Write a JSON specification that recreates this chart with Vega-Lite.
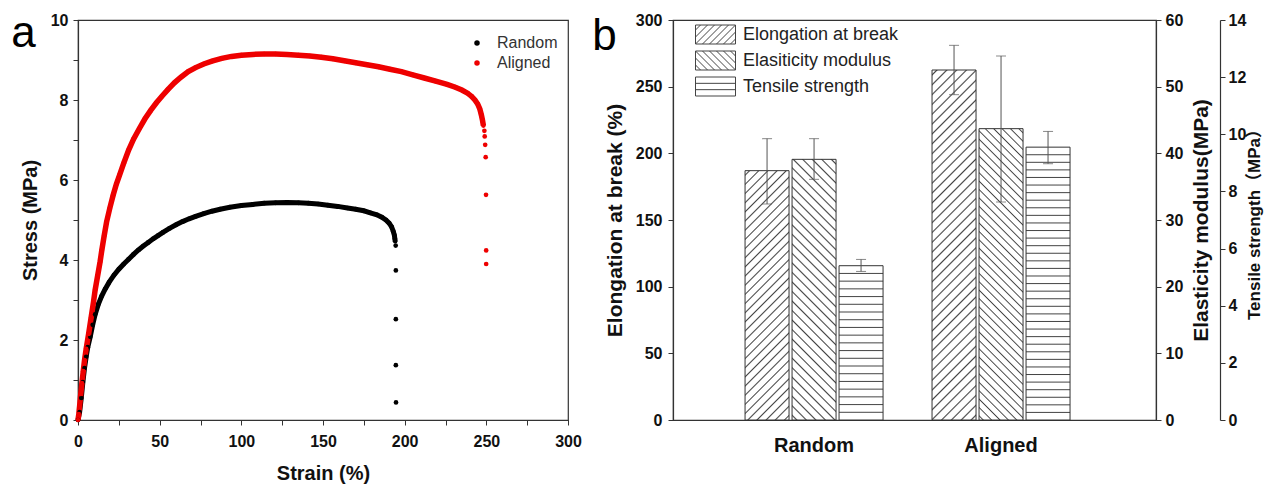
{
"$schema": "https://vega.github.io/schema/vega-lite/v6.json",
"background": "white",
"padding": {"left": 10, "top": 11, "right": 0, "bottom": 0},
"spacing": 105,
"bounds": "flush",
"resolve": {"legend": {"color": "independent", "shape": "independent"}},
"config": {
  "font": "Liberation Sans",
  "view": {"stroke": "#333", "strokeWidth": 1.2},
  "axis": {"grid": false, "domainColor": "#333", "tickColor": "#333", "labelColor": "#111", "titleColor": "#111", "labelFont": "Liberation Sans", "titleFont": "Liberation Sans", "labelFontWeight": "bold", "titleFontWeight": "bold", "labelFontSize": 16, "titleFontSize": 20, "tickSize": 5, "domainWidth": 1.2, "labelOverlap": false, "labelFlush": false},
  "legend": {"labelFont": "Liberation Sans", "labelFontWeight": "normal"},
  "title": {"font": "Liberation Sans", "fontWeight": "normal", "fontSize": 44, "color": "#000", "anchor": "start", "frame": "bounds"}
},
"params": [
 {"name": "stopsR", "value": [
  {"offset":0.0106,"color":"#fff"},{"offset":0.0156,"color":"#444"},{"offset":0.0206,"color":"#fff"},
  {"offset":0.0419,"color":"#fff"},{"offset":0.0469,"color":"#444"},{"offset":0.0519,"color":"#fff"},
  {"offset":0.0731,"color":"#fff"},{"offset":0.0781,"color":"#444"},{"offset":0.0831,"color":"#fff"},
  {"offset":0.1044,"color":"#fff"},{"offset":0.1094,"color":"#444"},{"offset":0.1144,"color":"#fff"},
  {"offset":0.1356,"color":"#fff"},{"offset":0.1406,"color":"#444"},{"offset":0.1456,"color":"#fff"},
  {"offset":0.1669,"color":"#fff"},{"offset":0.1719,"color":"#444"},{"offset":0.1769,"color":"#fff"},
  {"offset":0.1981,"color":"#fff"},{"offset":0.2031,"color":"#444"},{"offset":0.2081,"color":"#fff"},
  {"offset":0.2294,"color":"#fff"},{"offset":0.2344,"color":"#444"},{"offset":0.2394,"color":"#fff"},
  {"offset":0.2606,"color":"#fff"},{"offset":0.2656,"color":"#444"},{"offset":0.2706,"color":"#fff"},
  {"offset":0.2919,"color":"#fff"},{"offset":0.2969,"color":"#444"},{"offset":0.3019,"color":"#fff"},
  {"offset":0.3231,"color":"#fff"},{"offset":0.3281,"color":"#444"},{"offset":0.3331,"color":"#fff"},
  {"offset":0.3544,"color":"#fff"},{"offset":0.3594,"color":"#444"},{"offset":0.3644,"color":"#fff"},
  {"offset":0.3856,"color":"#fff"},{"offset":0.3906,"color":"#444"},{"offset":0.3956,"color":"#fff"},
  {"offset":0.4169,"color":"#fff"},{"offset":0.4219,"color":"#444"},{"offset":0.4269,"color":"#fff"},
  {"offset":0.4481,"color":"#fff"},{"offset":0.4531,"color":"#444"},{"offset":0.4581,"color":"#fff"},
  {"offset":0.4794,"color":"#fff"},{"offset":0.4844,"color":"#444"},{"offset":0.4894,"color":"#fff"},
  {"offset":0.5106,"color":"#fff"},{"offset":0.5156,"color":"#444"},{"offset":0.5206,"color":"#fff"},
  {"offset":0.5419,"color":"#fff"},{"offset":0.5469,"color":"#444"},{"offset":0.5519,"color":"#fff"},
  {"offset":0.5731,"color":"#fff"},{"offset":0.5781,"color":"#444"},{"offset":0.5831,"color":"#fff"},
  {"offset":0.6044,"color":"#fff"},{"offset":0.6094,"color":"#444"},{"offset":0.6144,"color":"#fff"},
  {"offset":0.6356,"color":"#fff"},{"offset":0.6406,"color":"#444"},{"offset":0.6456,"color":"#fff"},
  {"offset":0.6669,"color":"#fff"},{"offset":0.6719,"color":"#444"},{"offset":0.6769,"color":"#fff"},
  {"offset":0.6981,"color":"#fff"},{"offset":0.7031,"color":"#444"},{"offset":0.7081,"color":"#fff"},
  {"offset":0.7294,"color":"#fff"},{"offset":0.7344,"color":"#444"},{"offset":0.7394,"color":"#fff"},
  {"offset":0.7606,"color":"#fff"},{"offset":0.7656,"color":"#444"},{"offset":0.7706,"color":"#fff"},
  {"offset":0.7919,"color":"#fff"},{"offset":0.7969,"color":"#444"},{"offset":0.8019,"color":"#fff"},
  {"offset":0.8231,"color":"#fff"},{"offset":0.8281,"color":"#444"},{"offset":0.8331,"color":"#fff"},
  {"offset":0.8544,"color":"#fff"},{"offset":0.8594,"color":"#444"},{"offset":0.8644,"color":"#fff"},
  {"offset":0.8856,"color":"#fff"},{"offset":0.8906,"color":"#444"},{"offset":0.8956,"color":"#fff"},
  {"offset":0.9169,"color":"#fff"},{"offset":0.9219,"color":"#444"},{"offset":0.9269,"color":"#fff"},
  {"offset":0.9481,"color":"#fff"},{"offset":0.9531,"color":"#444"},{"offset":0.9581,"color":"#fff"},
  {"offset":0.9794,"color":"#fff"},{"offset":0.9844,"color":"#444"},{"offset":0.9894,"color":"#fff"}
 ]},
 {"name": "stopsA", "value": [
  {"offset":0.0085,"color":"#fff"},{"offset":0.0125,"color":"#444"},{"offset":0.0165,"color":"#fff"},
  {"offset":0.0335,"color":"#fff"},{"offset":0.0375,"color":"#444"},{"offset":0.0415,"color":"#fff"},
  {"offset":0.0585,"color":"#fff"},{"offset":0.0625,"color":"#444"},{"offset":0.0665,"color":"#fff"},
  {"offset":0.0835,"color":"#fff"},{"offset":0.0875,"color":"#444"},{"offset":0.0915,"color":"#fff"},
  {"offset":0.1085,"color":"#fff"},{"offset":0.1125,"color":"#444"},{"offset":0.1165,"color":"#fff"},
  {"offset":0.1335,"color":"#fff"},{"offset":0.1375,"color":"#444"},{"offset":0.1415,"color":"#fff"},
  {"offset":0.1585,"color":"#fff"},{"offset":0.1625,"color":"#444"},{"offset":0.1665,"color":"#fff"},
  {"offset":0.1835,"color":"#fff"},{"offset":0.1875,"color":"#444"},{"offset":0.1915,"color":"#fff"},
  {"offset":0.2085,"color":"#fff"},{"offset":0.2125,"color":"#444"},{"offset":0.2165,"color":"#fff"},
  {"offset":0.2335,"color":"#fff"},{"offset":0.2375,"color":"#444"},{"offset":0.2415,"color":"#fff"},
  {"offset":0.2585,"color":"#fff"},{"offset":0.2625,"color":"#444"},{"offset":0.2665,"color":"#fff"},
  {"offset":0.2835,"color":"#fff"},{"offset":0.2875,"color":"#444"},{"offset":0.2915,"color":"#fff"},
  {"offset":0.3085,"color":"#fff"},{"offset":0.3125,"color":"#444"},{"offset":0.3165,"color":"#fff"},
  {"offset":0.3335,"color":"#fff"},{"offset":0.3375,"color":"#444"},{"offset":0.3415,"color":"#fff"},
  {"offset":0.3585,"color":"#fff"},{"offset":0.3625,"color":"#444"},{"offset":0.3665,"color":"#fff"},
  {"offset":0.3835,"color":"#fff"},{"offset":0.3875,"color":"#444"},{"offset":0.3915,"color":"#fff"},
  {"offset":0.4085,"color":"#fff"},{"offset":0.4125,"color":"#444"},{"offset":0.4165,"color":"#fff"},
  {"offset":0.4335,"color":"#fff"},{"offset":0.4375,"color":"#444"},{"offset":0.4415,"color":"#fff"},
  {"offset":0.4585,"color":"#fff"},{"offset":0.4625,"color":"#444"},{"offset":0.4665,"color":"#fff"},
  {"offset":0.4835,"color":"#fff"},{"offset":0.4875,"color":"#444"},{"offset":0.4915,"color":"#fff"},
  {"offset":0.5085,"color":"#fff"},{"offset":0.5125,"color":"#444"},{"offset":0.5165,"color":"#fff"},
  {"offset":0.5335,"color":"#fff"},{"offset":0.5375,"color":"#444"},{"offset":0.5415,"color":"#fff"},
  {"offset":0.5585,"color":"#fff"},{"offset":0.5625,"color":"#444"},{"offset":0.5665,"color":"#fff"},
  {"offset":0.5835,"color":"#fff"},{"offset":0.5875,"color":"#444"},{"offset":0.5915,"color":"#fff"},
  {"offset":0.6085,"color":"#fff"},{"offset":0.6125,"color":"#444"},{"offset":0.6165,"color":"#fff"},
  {"offset":0.6335,"color":"#fff"},{"offset":0.6375,"color":"#444"},{"offset":0.6415,"color":"#fff"},
  {"offset":0.6585,"color":"#fff"},{"offset":0.6625,"color":"#444"},{"offset":0.6665,"color":"#fff"},
  {"offset":0.6835,"color":"#fff"},{"offset":0.6875,"color":"#444"},{"offset":0.6915,"color":"#fff"},
  {"offset":0.7085,"color":"#fff"},{"offset":0.7125,"color":"#444"},{"offset":0.7165,"color":"#fff"},
  {"offset":0.7335,"color":"#fff"},{"offset":0.7375,"color":"#444"},{"offset":0.7415,"color":"#fff"},
  {"offset":0.7585,"color":"#fff"},{"offset":0.7625,"color":"#444"},{"offset":0.7665,"color":"#fff"},
  {"offset":0.7835,"color":"#fff"},{"offset":0.7875,"color":"#444"},{"offset":0.7915,"color":"#fff"},
  {"offset":0.8085,"color":"#fff"},{"offset":0.8125,"color":"#444"},{"offset":0.8165,"color":"#fff"},
  {"offset":0.8335,"color":"#fff"},{"offset":0.8375,"color":"#444"},{"offset":0.8415,"color":"#fff"},
  {"offset":0.8585,"color":"#fff"},{"offset":0.8625,"color":"#444"},{"offset":0.8665,"color":"#fff"},
  {"offset":0.8835,"color":"#fff"},{"offset":0.8875,"color":"#444"},{"offset":0.8915,"color":"#fff"},
  {"offset":0.9085,"color":"#fff"},{"offset":0.9125,"color":"#444"},{"offset":0.9165,"color":"#fff"},
  {"offset":0.9335,"color":"#fff"},{"offset":0.9375,"color":"#444"},{"offset":0.9415,"color":"#fff"},
  {"offset":0.9585,"color":"#fff"},{"offset":0.9625,"color":"#444"},{"offset":0.9665,"color":"#fff"},
  {"offset":0.9835,"color":"#fff"},{"offset":0.9875,"color":"#444"},{"offset":0.9915,"color":"#fff"}
 ]},
 {"name": "stopsHR", "value": [
  {"offset":0.0435,"color":"#fff"},{"offset":0.05,"color":"#444"},{"offset":0.0565,"color":"#fff"},
  {"offset":0.0935,"color":"#fff"},{"offset":0.1,"color":"#444"},{"offset":0.1065,"color":"#fff"},
  {"offset":0.1435,"color":"#fff"},{"offset":0.15,"color":"#444"},{"offset":0.1565,"color":"#fff"},
  {"offset":0.1935,"color":"#fff"},{"offset":0.2,"color":"#444"},{"offset":0.2065,"color":"#fff"},
  {"offset":0.2435,"color":"#fff"},{"offset":0.25,"color":"#444"},{"offset":0.2565,"color":"#fff"},
  {"offset":0.2935,"color":"#fff"},{"offset":0.3,"color":"#444"},{"offset":0.3065,"color":"#fff"},
  {"offset":0.3435,"color":"#fff"},{"offset":0.35,"color":"#444"},{"offset":0.3565,"color":"#fff"},
  {"offset":0.3935,"color":"#fff"},{"offset":0.4,"color":"#444"},{"offset":0.4065,"color":"#fff"},
  {"offset":0.4435,"color":"#fff"},{"offset":0.45,"color":"#444"},{"offset":0.4565,"color":"#fff"},
  {"offset":0.4935,"color":"#fff"},{"offset":0.5,"color":"#444"},{"offset":0.5065,"color":"#fff"},
  {"offset":0.5435,"color":"#fff"},{"offset":0.55,"color":"#444"},{"offset":0.5565,"color":"#fff"},
  {"offset":0.5935,"color":"#fff"},{"offset":0.6,"color":"#444"},{"offset":0.6065,"color":"#fff"},
  {"offset":0.6435,"color":"#fff"},{"offset":0.65,"color":"#444"},{"offset":0.6565,"color":"#fff"},
  {"offset":0.6935,"color":"#fff"},{"offset":0.7,"color":"#444"},{"offset":0.7065,"color":"#fff"},
  {"offset":0.7435,"color":"#fff"},{"offset":0.75,"color":"#444"},{"offset":0.7565,"color":"#fff"},
  {"offset":0.7935,"color":"#fff"},{"offset":0.8,"color":"#444"},{"offset":0.8065,"color":"#fff"},
  {"offset":0.8435,"color":"#fff"},{"offset":0.85,"color":"#444"},{"offset":0.8565,"color":"#fff"},
  {"offset":0.8935,"color":"#fff"},{"offset":0.9,"color":"#444"},{"offset":0.9065,"color":"#fff"},
  {"offset":0.9435,"color":"#fff"},{"offset":0.95,"color":"#444"},{"offset":0.9565,"color":"#fff"}
 ]},
 {"name": "stopsHA", "value": [
  {"offset":0.0241,"color":"#fff"},{"offset":0.0278,"color":"#444"},{"offset":0.0315,"color":"#fff"},
  {"offset":0.0519,"color":"#fff"},{"offset":0.0556,"color":"#444"},{"offset":0.0593,"color":"#fff"},
  {"offset":0.0796,"color":"#fff"},{"offset":0.0833,"color":"#444"},{"offset":0.0870,"color":"#fff"},
  {"offset":0.1074,"color":"#fff"},{"offset":0.1111,"color":"#444"},{"offset":0.1148,"color":"#fff"},
  {"offset":0.1352,"color":"#fff"},{"offset":0.1389,"color":"#444"},{"offset":0.1426,"color":"#fff"},
  {"offset":0.1630,"color":"#fff"},{"offset":0.1667,"color":"#444"},{"offset":0.1704,"color":"#fff"},
  {"offset":0.1907,"color":"#fff"},{"offset":0.1944,"color":"#444"},{"offset":0.1981,"color":"#fff"},
  {"offset":0.2185,"color":"#fff"},{"offset":0.2222,"color":"#444"},{"offset":0.2259,"color":"#fff"},
  {"offset":0.2463,"color":"#fff"},{"offset":0.25,"color":"#444"},{"offset":0.2537,"color":"#fff"},
  {"offset":0.2741,"color":"#fff"},{"offset":0.2778,"color":"#444"},{"offset":0.2815,"color":"#fff"},
  {"offset":0.3019,"color":"#fff"},{"offset":0.3056,"color":"#444"},{"offset":0.3093,"color":"#fff"},
  {"offset":0.3296,"color":"#fff"},{"offset":0.3333,"color":"#444"},{"offset":0.3370,"color":"#fff"},
  {"offset":0.3574,"color":"#fff"},{"offset":0.3611,"color":"#444"},{"offset":0.3648,"color":"#fff"},
  {"offset":0.3852,"color":"#fff"},{"offset":0.3889,"color":"#444"},{"offset":0.3926,"color":"#fff"},
  {"offset":0.4130,"color":"#fff"},{"offset":0.4167,"color":"#444"},{"offset":0.4204,"color":"#fff"},
  {"offset":0.4407,"color":"#fff"},{"offset":0.4444,"color":"#444"},{"offset":0.4481,"color":"#fff"},
  {"offset":0.4685,"color":"#fff"},{"offset":0.4722,"color":"#444"},{"offset":0.4759,"color":"#fff"},
  {"offset":0.4963,"color":"#fff"},{"offset":0.5,"color":"#444"},{"offset":0.5037,"color":"#fff"},
  {"offset":0.5241,"color":"#fff"},{"offset":0.5278,"color":"#444"},{"offset":0.5315,"color":"#fff"},
  {"offset":0.5519,"color":"#fff"},{"offset":0.5556,"color":"#444"},{"offset":0.5593,"color":"#fff"},
  {"offset":0.5796,"color":"#fff"},{"offset":0.5833,"color":"#444"},{"offset":0.5870,"color":"#fff"},
  {"offset":0.6074,"color":"#fff"},{"offset":0.6111,"color":"#444"},{"offset":0.6148,"color":"#fff"},
  {"offset":0.6352,"color":"#fff"},{"offset":0.6389,"color":"#444"},{"offset":0.6426,"color":"#fff"},
  {"offset":0.6630,"color":"#fff"},{"offset":0.6667,"color":"#444"},{"offset":0.6704,"color":"#fff"},
  {"offset":0.6907,"color":"#fff"},{"offset":0.6944,"color":"#444"},{"offset":0.6981,"color":"#fff"},
  {"offset":0.7185,"color":"#fff"},{"offset":0.7222,"color":"#444"},{"offset":0.7259,"color":"#fff"},
  {"offset":0.7463,"color":"#fff"},{"offset":0.75,"color":"#444"},{"offset":0.7537,"color":"#fff"},
  {"offset":0.7741,"color":"#fff"},{"offset":0.7778,"color":"#444"},{"offset":0.7815,"color":"#fff"},
  {"offset":0.8019,"color":"#fff"},{"offset":0.8056,"color":"#444"},{"offset":0.8093,"color":"#fff"},
  {"offset":0.8296,"color":"#fff"},{"offset":0.8333,"color":"#444"},{"offset":0.8370,"color":"#fff"},
  {"offset":0.8574,"color":"#fff"},{"offset":0.8611,"color":"#444"},{"offset":0.8648,"color":"#fff"},
  {"offset":0.8852,"color":"#fff"},{"offset":0.8889,"color":"#444"},{"offset":0.8926,"color":"#fff"},
  {"offset":0.9130,"color":"#fff"},{"offset":0.9167,"color":"#444"},{"offset":0.9204,"color":"#fff"},
  {"offset":0.9407,"color":"#fff"},{"offset":0.9444,"color":"#444"},{"offset":0.9481,"color":"#fff"},
  {"offset":0.9685,"color":"#fff"},{"offset":0.9722,"color":"#444"},{"offset":0.9759,"color":"#fff"}
 ]}
],
"hconcat": [
 {
  "width": 490, "height": 400,
  "title": {"text": "a", "baseline": "alphabetic", "dy": 79, "dx": -9, "offset": 0},
  "data": {"values": [
   {"sample":"Random","phase":"loading","strain":0,"stress":0},
   {"sample":"Random","phase":"loading","strain":1,"stress":0.2},
   {"sample":"Random","phase":"loading","strain":2,"stress":0.55},
   {"sample":"Random","phase":"loading","strain":3,"stress":0.95},
   {"sample":"Random","phase":"loading","strain":4,"stress":1.3},
   {"sample":"Random","phase":"loading","strain":5,"stress":1.58},
   {"sample":"Random","phase":"loading","strain":6,"stress":1.82},
   {"sample":"Random","phase":"loading","strain":7.5,"stress":2.08},
   {"sample":"Random","phase":"loading","strain":9,"stress":2.38},
   {"sample":"Random","phase":"loading","strain":10.5,"stress":2.64},
   {"sample":"Random","phase":"loading","strain":12.5,"stress":2.9},
   {"sample":"Random","phase":"loading","strain":14.5,"stress":3.1},
   {"sample":"Random","phase":"loading","strain":16.6,"stress":3.27},
   {"sample":"Random","phase":"loading","strain":19,"stress":3.44},
   {"sample":"Random","phase":"loading","strain":22,"stress":3.62},
   {"sample":"Random","phase":"loading","strain":25,"stress":3.77},
   {"sample":"Random","phase":"loading","strain":28,"stress":3.9},
   {"sample":"Random","phase":"loading","strain":31,"stress":4.02},
   {"sample":"Random","phase":"loading","strain":34,"stress":4.14},
   {"sample":"Random","phase":"loading","strain":37,"stress":4.25},
   {"sample":"Random","phase":"loading","strain":40,"stress":4.35},
   {"sample":"Random","phase":"loading","strain":43,"stress":4.44},
   {"sample":"Random","phase":"loading","strain":46,"stress":4.53},
   {"sample":"Random","phase":"loading","strain":49,"stress":4.61},
   {"sample":"Random","phase":"loading","strain":52,"stress":4.69},
   {"sample":"Random","phase":"loading","strain":56,"stress":4.79},
   {"sample":"Random","phase":"loading","strain":60,"stress":4.88},
   {"sample":"Random","phase":"loading","strain":64,"stress":4.96},
   {"sample":"Random","phase":"loading","strain":68,"stress":5.03},
   {"sample":"Random","phase":"loading","strain":72,"stress":5.09},
   {"sample":"Random","phase":"loading","strain":77,"stress":5.16},
   {"sample":"Random","phase":"loading","strain":82,"stress":5.22},
   {"sample":"Random","phase":"loading","strain":87,"stress":5.27},
   {"sample":"Random","phase":"loading","strain":93,"stress":5.32},
   {"sample":"Random","phase":"loading","strain":100,"stress":5.36},
   {"sample":"Random","phase":"loading","strain":107,"stress":5.39},
   {"sample":"Random","phase":"loading","strain":114,"stress":5.42},
   {"sample":"Random","phase":"loading","strain":121,"stress":5.43},
   {"sample":"Random","phase":"loading","strain":128,"stress":5.44},
   {"sample":"Random","phase":"loading","strain":135,"stress":5.43},
   {"sample":"Random","phase":"loading","strain":141,"stress":5.42},
   {"sample":"Random","phase":"loading","strain":147,"stress":5.4},
   {"sample":"Random","phase":"loading","strain":153,"stress":5.37},
   {"sample":"Random","phase":"loading","strain":159,"stress":5.34},
   {"sample":"Random","phase":"loading","strain":165,"stress":5.3},
   {"sample":"Random","phase":"loading","strain":170,"stress":5.27},
   {"sample":"Random","phase":"loading","strain":175,"stress":5.23},
   {"sample":"Random","phase":"loading","strain":179,"stress":5.18},
   {"sample":"Random","phase":"loading","strain":183,"stress":5.13},
   {"sample":"Random","phase":"loading","strain":186,"stress":5.07},
   {"sample":"Random","phase":"loading","strain":188.5,"stress":5.0},
   {"sample":"Random","phase":"loading","strain":190.5,"stress":4.92},
   {"sample":"Random","phase":"loading","strain":192,"stress":4.83},
   {"sample":"Random","phase":"loading","strain":193,"stress":4.72},
   {"sample":"Random","phase":"loading","strain":193.7,"stress":4.62},
   {"sample":"Random","phase":"loading","strain":194,"stress":4.53},
   {"sample":"Random","phase":"loading","strain":194.2,"stress":4.47},
   {"sample":"Random","phase":"fracture","strain":194.5,"stress":4.36},
   {"sample":"Random","phase":"fracture","strain":194.6,"stress":3.74},
   {"sample":"Random","phase":"fracture","strain":194.6,"stress":2.52},
   {"sample":"Random","phase":"fracture","strain":194.6,"stress":1.37},
   {"sample":"Random","phase":"fracture","strain":194.7,"stress":0.44},
   {"sample":"Aligned","phase":"loading","strain":0,"stress":0},
   {"sample":"Aligned","phase":"loading","strain":0.5,"stress":0.15},
   {"sample":"Aligned","phase":"loading","strain":1,"stress":0.35},
   {"sample":"Aligned","phase":"loading","strain":1.7,"stress":0.65},
   {"sample":"Aligned","phase":"loading","strain":2.4,"stress":0.92},
   {"sample":"Aligned","phase":"loading","strain":3.2,"stress":1.22},
   {"sample":"Aligned","phase":"loading","strain":4,"stress":1.5},
   {"sample":"Aligned","phase":"loading","strain":5,"stress":1.78},
   {"sample":"Aligned","phase":"loading","strain":6.5,"stress":2.15},
   {"sample":"Aligned","phase":"loading","strain":8,"stress":2.55},
   {"sample":"Aligned","phase":"loading","strain":9.5,"stress":2.95},
   {"sample":"Aligned","phase":"loading","strain":10.5,"stress":3.25},
   {"sample":"Aligned","phase":"loading","strain":12,"stress":3.6},
   {"sample":"Aligned","phase":"loading","strain":13.5,"stress":3.95},
   {"sample":"Aligned","phase":"loading","strain":14.6,"stress":4.25},
   {"sample":"Aligned","phase":"loading","strain":16,"stress":4.6},
   {"sample":"Aligned","phase":"loading","strain":17.5,"stress":4.95},
   {"sample":"Aligned","phase":"loading","strain":19.5,"stress":5.3},
   {"sample":"Aligned","phase":"loading","strain":21.5,"stress":5.62},
   {"sample":"Aligned","phase":"loading","strain":23.5,"stress":5.9},
   {"sample":"Aligned","phase":"loading","strain":25.5,"stress":6.13},
   {"sample":"Aligned","phase":"loading","strain":28,"stress":6.42},
   {"sample":"Aligned","phase":"loading","strain":31,"stress":6.75},
   {"sample":"Aligned","phase":"loading","strain":34,"stress":7.02},
   {"sample":"Aligned","phase":"loading","strain":37.5,"stress":7.28},
   {"sample":"Aligned","phase":"loading","strain":41,"stress":7.53},
   {"sample":"Aligned","phase":"loading","strain":44.5,"stress":7.74},
   {"sample":"Aligned","phase":"loading","strain":48,"stress":7.93},
   {"sample":"Aligned","phase":"loading","strain":51.5,"stress":8.1},
   {"sample":"Aligned","phase":"loading","strain":55,"stress":8.26},
   {"sample":"Aligned","phase":"loading","strain":59,"stress":8.43},
   {"sample":"Aligned","phase":"loading","strain":63,"stress":8.57},
   {"sample":"Aligned","phase":"loading","strain":67.5,"stress":8.71},
   {"sample":"Aligned","phase":"loading","strain":72,"stress":8.81},
   {"sample":"Aligned","phase":"loading","strain":77,"stress":8.9},
   {"sample":"Aligned","phase":"loading","strain":82,"stress":8.97},
   {"sample":"Aligned","phase":"loading","strain":88,"stress":9.04},
   {"sample":"Aligned","phase":"loading","strain":94,"stress":9.09},
   {"sample":"Aligned","phase":"loading","strain":100,"stress":9.12},
   {"sample":"Aligned","phase":"loading","strain":107,"stress":9.14},
   {"sample":"Aligned","phase":"loading","strain":114,"stress":9.15},
   {"sample":"Aligned","phase":"loading","strain":121,"stress":9.15},
   {"sample":"Aligned","phase":"loading","strain":128,"stress":9.14},
   {"sample":"Aligned","phase":"loading","strain":135,"stress":9.12},
   {"sample":"Aligned","phase":"loading","strain":142,"stress":9.1},
   {"sample":"Aligned","phase":"loading","strain":149,"stress":9.07},
   {"sample":"Aligned","phase":"loading","strain":156,"stress":9.03},
   {"sample":"Aligned","phase":"loading","strain":163,"stress":8.98},
   {"sample":"Aligned","phase":"loading","strain":170,"stress":8.93},
   {"sample":"Aligned","phase":"loading","strain":177,"stress":8.88},
   {"sample":"Aligned","phase":"loading","strain":184,"stress":8.83},
   {"sample":"Aligned","phase":"loading","strain":191,"stress":8.77},
   {"sample":"Aligned","phase":"loading","strain":198,"stress":8.71},
   {"sample":"Aligned","phase":"loading","strain":205,"stress":8.63},
   {"sample":"Aligned","phase":"loading","strain":212,"stress":8.55},
   {"sample":"Aligned","phase":"loading","strain":219,"stress":8.47},
   {"sample":"Aligned","phase":"loading","strain":226,"stress":8.39},
   {"sample":"Aligned","phase":"loading","strain":231,"stress":8.32},
   {"sample":"Aligned","phase":"loading","strain":235,"stress":8.25},
   {"sample":"Aligned","phase":"loading","strain":238.5,"stress":8.17},
   {"sample":"Aligned","phase":"loading","strain":241,"stress":8.09},
   {"sample":"Aligned","phase":"loading","strain":243,"stress":8.0},
   {"sample":"Aligned","phase":"loading","strain":244.7,"stress":7.9},
   {"sample":"Aligned","phase":"loading","strain":246,"stress":7.78},
   {"sample":"Aligned","phase":"loading","strain":247,"stress":7.62},
   {"sample":"Aligned","phase":"loading","strain":247.7,"stress":7.48},
   {"sample":"Aligned","phase":"loading","strain":248.2,"stress":7.36},
   {"sample":"Aligned","phase":"fracture","strain":248.8,"stress":7.23},
   {"sample":"Aligned","phase":"fracture","strain":249,"stress":7.09},
   {"sample":"Aligned","phase":"fracture","strain":249.3,"stress":6.88},
   {"sample":"Aligned","phase":"fracture","strain":249.6,"stress":6.57},
   {"sample":"Aligned","phase":"fracture","strain":249.8,"stress":5.63},
   {"sample":"Aligned","phase":"fracture","strain":249.9,"stress":4.24},
   {"sample":"Aligned","phase":"fracture","strain":249.9,"stress":3.9}
  ]},
  "encoding": {
   "x": {"field": "strain", "type": "quantitative", "scale": {"domain": [0, 300], "nice": false},
         "axis": {"title": "Strain (%)", "values": [0,25,50,75,100,125,150,175,200,225,250,275,300], "labelExpr": "datum.value % 50 === 0 ? datum.label : ''", "labelPadding": 8, "titlePadding": 14}},
   "y": {"field": "stress", "type": "quantitative", "scale": {"domain": [0, 10], "nice": false},
         "axis": {"title": "Stress (MPa)", "values": [0,1,2,3,4,5,6,7,8,9,10], "labelExpr": "datum.value % 2 === 0 ? datum.label : ''", "labelPadding": 5, "titlePadding": 10}}
  },
  "layer": [
   {"transform": [{"filter": "datum.phase === 'loading' && datum.sample === 'Random'"}],
    "mark": {"type": "line", "strokeWidth": 5, "color": "#000000"}},
   {"transform": [{"filter": "datum.phase === 'loading' && datum.sample === 'Aligned'"}],
    "mark": {"type": "line", "strokeWidth": 5.5, "color": "#ee0000"}},
   {"mark": {"type": "circle", "size": 22, "opacity": 1},
    "encoding": {"color": {"field": "sample", "type": "nominal", "scale": {"domain": ["Random", "Aligned"], "range": ["#000000", "#ee0000"]},
      "legend": {"title": null, "orient": "none", "legendX": 391, "legendY": 15, "symbolType": "circle", "symbolSize": 30, "labelFontSize": 16, "labelColor": "#333", "labelOffset": 12, "rowPadding": 4, "padding": 0}}}}
  ]
 },
 {
  "width": 483, "height": 400,
  "title": {"text": "b", "baseline": "alphabetic", "dy": 82, "dx": -12, "offset": 0},
  "data": {"values": [
   {"group":"Random","measure":"Elongation at break","value":187,"lo":162,"hi":211},
   {"group":"Aligned","measure":"Elongation at break","value":262.5,"lo":244,"hi":281},
   {"group":"Random","measure":"Elasiticity modulus","value":39.1,"lo":36.1,"hi":42.2},
   {"group":"Aligned","measure":"Elasiticity modulus","value":43.7,"lo":32.7,"hi":54.6},
   {"group":"Random","measure":"Tensile strength","value":5.4,"lo":5.2,"hi":5.62},
   {"group":"Aligned","measure":"Tensile strength","value":9.55,"lo":8.97,"hi":10.1}
  ]},
  "encoding": {
   "x": {"field": "group", "type": "nominal", "scale": {"domain": ["Random", "Aligned"], "paddingInner": 0.262, "paddingOuter": 0.4225, "align": 0.456},
         "axis": {"title": null, "labelAngle": 0, "ticks": false, "labelFontSize": 20, "labelPadding": 15}},
   "xOffset": {"field": "measure", "type": "nominal", "scale": {"domain": ["Elongation at break", "Elasiticity modulus", "Tensile strength"], "paddingInner": 0.064, "paddingOuter": 0}}
  },
  "layer": [
   {"layer": [
     {"transform": [{"filter": "datum.measure === 'Elongation at break' && datum.group === 'Random'"}],
      "mark": {"type": "bar", "stroke": "#333", "strokeWidth": 1, "fill": {"expr": "{gradient: 'linear', x1: 0, y1: 0, x2: 0.2014, y2: 1.1409, stops: stopsR}"}},
      "encoding": {"y": {"field": "value", "type": "quantitative", "scale": {"domain": [0, 300], "nice": false},
        "axis": {"orient": "left", "title": "Elongation at break (%)", "values": [0,25,50,75,100,125,150,175,200,225,250,275,300], "labelExpr": "datum.value % 50 === 0 ? datum.label : ''", "labelPadding": 6, "titlePadding": 10, "titleFontSize": 21}}}},
     {"transform": [{"filter": "datum.measure === 'Elongation at break' && datum.group === 'Aligned'"}],
      "mark": {"type": "bar", "stroke": "#333", "strokeWidth": 1, "fill": {"expr": "{gradient: 'linear', x1: 0, y1: 0, x2: 0.1393, y2: 1.1082, stops: stopsA}"}},
      "encoding": {"y": {"field": "value", "type": "quantitative", "title": "Elongation at break (%)"}}},
     {"transform": [{"filter": "datum.measure === 'Elongation at break'"}],
      "mark": {"type": "rule", "color": "#555", "strokeWidth": 1},
      "encoding": {"y": {"field": "lo", "type": "quantitative", "title": "Elongation at break (%)"}, "y2": {"field": "hi"}}},
     {"transform": [{"filter": "datum.measure === 'Elongation at break'"}],
      "mark": {"type": "tick", "color": "#555", "thickness": 1, "size": 10},
      "encoding": {"y": {"field": "lo", "type": "quantitative", "title": "Elongation at break (%)"}}},
     {"transform": [{"filter": "datum.measure === 'Elongation at break'"}],
      "mark": {"type": "tick", "color": "#555", "thickness": 1, "size": 10},
      "encoding": {"y": {"field": "hi", "type": "quantitative", "title": "Elongation at break (%)"}}},
     {"transform": [{"filter": "datum.measure === 'Elasiticity modulus'"}],
      "mark": {"type": "point", "filled": true, "fill": "#ffffff", "stroke": "#444444", "strokeWidth": 1, "opacity": 1, "size": 400},
      "encoding": {"y": {"field": "value", "type": "quantitative", "title": "Elongation at break (%)"},
        "shape": {"field": "measure", "type": "nominal",
          "scale": {"domain": ["Elongation at break", "Elasiticity modulus", "Tensile strength"],
            "range": [
              "M-2,-0.95L2,-0.95L2,0.95L-2,0.95Z M-2,-0.45L-1.5,-0.95 M-2,0.25L-0.8,-0.95 M-2,0.95L-0.1,-0.95 M-1.3,0.95L0.6,-0.95 M-0.6,0.95L1.3,-0.95 M0.1,0.95L2,-0.95 M0.8,0.95L2,-0.25 M1.5,0.95L2,0.45",
              "M-2,-0.95L2,-0.95L2,0.95L-2,0.95Z M2,-0.45L1.5,-0.95 M2,0.25L0.8,-0.95 M2,0.95L0.1,-0.95 M1.3,0.95L-0.6,-0.95 M0.6,0.95L-1.3,-0.95 M-0.1,0.95L-2,-0.95 M-0.8,0.95L-2,-0.25 M-1.5,0.95L-2,0.45",
              "M-2,-0.95L2,-0.95L2,0.95L-2,0.95Z M-2,-0.316L2,-0.316 M-2,0.316L2,0.316"
            ]},
          "legend": {"title": null, "orient": "none", "legendX": 32, "legendY": 4, "symbolSize": 400, "symbolStrokeWidth": 1, "labelFontSize": 18, "labelColor": "#222", "labelOffset": 17, "rowPadding": 3, "padding": 0}}}}
   ]},
   {"layer": [
     {"transform": [{"filter": "datum.measure === 'Elasiticity modulus' && datum.group === 'Random'"}],
      "mark": {"type": "bar", "stroke": "#333", "strokeWidth": 1, "fill": {"expr": "{gradient: 'linear', x1: 0, y1: 1, x2: 0.1918, y2: -0.1364, stops: stopsR}"}},
      "encoding": {"y": {"field": "value", "type": "quantitative", "scale": {"domain": [0, 60], "nice": false},
        "axis": {"orient": "right", "title": "Elasticity modulus(MPa)", "values": [0,2.5,5,7.5,10,12.5,15,17.5,20,22.5,25,27.5,30,32.5,35,37.5,40,42.5,45,47.5,50,52.5,55,57.5,60], "labelExpr": "datum.value % 5 === 0 ? datum.label : ''", "labelPadding": 4, "titlePadding": 8, "titleFontSize": 21, "titleAngle": 270, "titleBaseline": "top"}}}},
     {"transform": [{"filter": "datum.measure === 'Elasiticity modulus' && datum.group === 'Aligned'"}],
      "mark": {"type": "bar", "stroke": "#333", "strokeWidth": 1, "fill": {"expr": "{gradient: 'linear', x1: 0, y1: 1, x2: 0.1699, y2: -0.1253, stops: stopsA}"}},
      "encoding": {"y": {"field": "value", "type": "quantitative", "title": "Elasticity modulus(MPa)"}}},
     {"transform": [{"filter": "datum.measure === 'Elasiticity modulus'"}],
      "mark": {"type": "rule", "color": "#555", "strokeWidth": 1},
      "encoding": {"y": {"field": "lo", "type": "quantitative", "title": "Elasticity modulus(MPa)"}, "y2": {"field": "hi"}}},
     {"transform": [{"filter": "datum.measure === 'Elasiticity modulus'"}],
      "mark": {"type": "tick", "color": "#555", "thickness": 1, "size": 10},
      "encoding": {"y": {"field": "lo", "type": "quantitative", "title": "Elasticity modulus(MPa)"}}},
     {"transform": [{"filter": "datum.measure === 'Elasiticity modulus'"}],
      "mark": {"type": "tick", "color": "#555", "thickness": 1, "size": 10},
      "encoding": {"y": {"field": "hi", "type": "quantitative", "title": "Elasticity modulus(MPa)"}}}
   ]},
   {"layer": [
     {"transform": [{"filter": "datum.measure === 'Tensile strength' && datum.group === 'Random'"}],
      "mark": {"type": "bar", "stroke": "#333", "strokeWidth": 1, "fill": {"expr": "{gradient: 'linear', x1: 0, y1: 0, x2: 0, y2: 1, stops: stopsHR}"}},
      "encoding": {"y": {"field": "value", "type": "quantitative", "scale": {"domain": [0, 14], "nice": false},
        "axis": {"orient": "right", "offset": 64, "title": "Tensile strength（MPa）", "titleFont": "Liberation Sans, Noto Sans CJK SC", "values": [0,1,2,3,4,5,6,7,8,9,10,11,12,13,14], "labelExpr": "datum.value % 2 === 0 ? datum.label : ''", "labelPadding": 3, "titlePadding": 1, "titleFontSize": 17, "titleAngle": 270, "titleBaseline": "top"}}}},
     {"transform": [{"filter": "datum.measure === 'Tensile strength' && datum.group === 'Aligned'"}],
      "mark": {"type": "bar", "stroke": "#333", "strokeWidth": 1, "fill": {"expr": "{gradient: 'linear', x1: 0, y1: 0, x2: 0, y2: 1, stops: stopsHA}"}},
      "encoding": {"y": {"field": "value", "type": "quantitative", "title": "Tensile strength（MPa）"}}},
     {"transform": [{"filter": "datum.measure === 'Tensile strength'"}],
      "mark": {"type": "rule", "color": "#555", "strokeWidth": 1},
      "encoding": {"y": {"field": "lo", "type": "quantitative", "title": "Tensile strength（MPa）"}, "y2": {"field": "hi"}}},
     {"transform": [{"filter": "datum.measure === 'Tensile strength'"}],
      "mark": {"type": "tick", "color": "#555", "thickness": 1, "size": 10},
      "encoding": {"y": {"field": "lo", "type": "quantitative", "title": "Tensile strength（MPa）"}}},
     {"transform": [{"filter": "datum.measure === 'Tensile strength'"}],
      "mark": {"type": "tick", "color": "#555", "thickness": 1, "size": 10},
      "encoding": {"y": {"field": "hi", "type": "quantitative", "title": "Tensile strength（MPa）"}}}
   ]}
  ],
  "resolve": {"scale": {"y": "independent"}, "axis": {"y": "independent"}}
 }
]
}
